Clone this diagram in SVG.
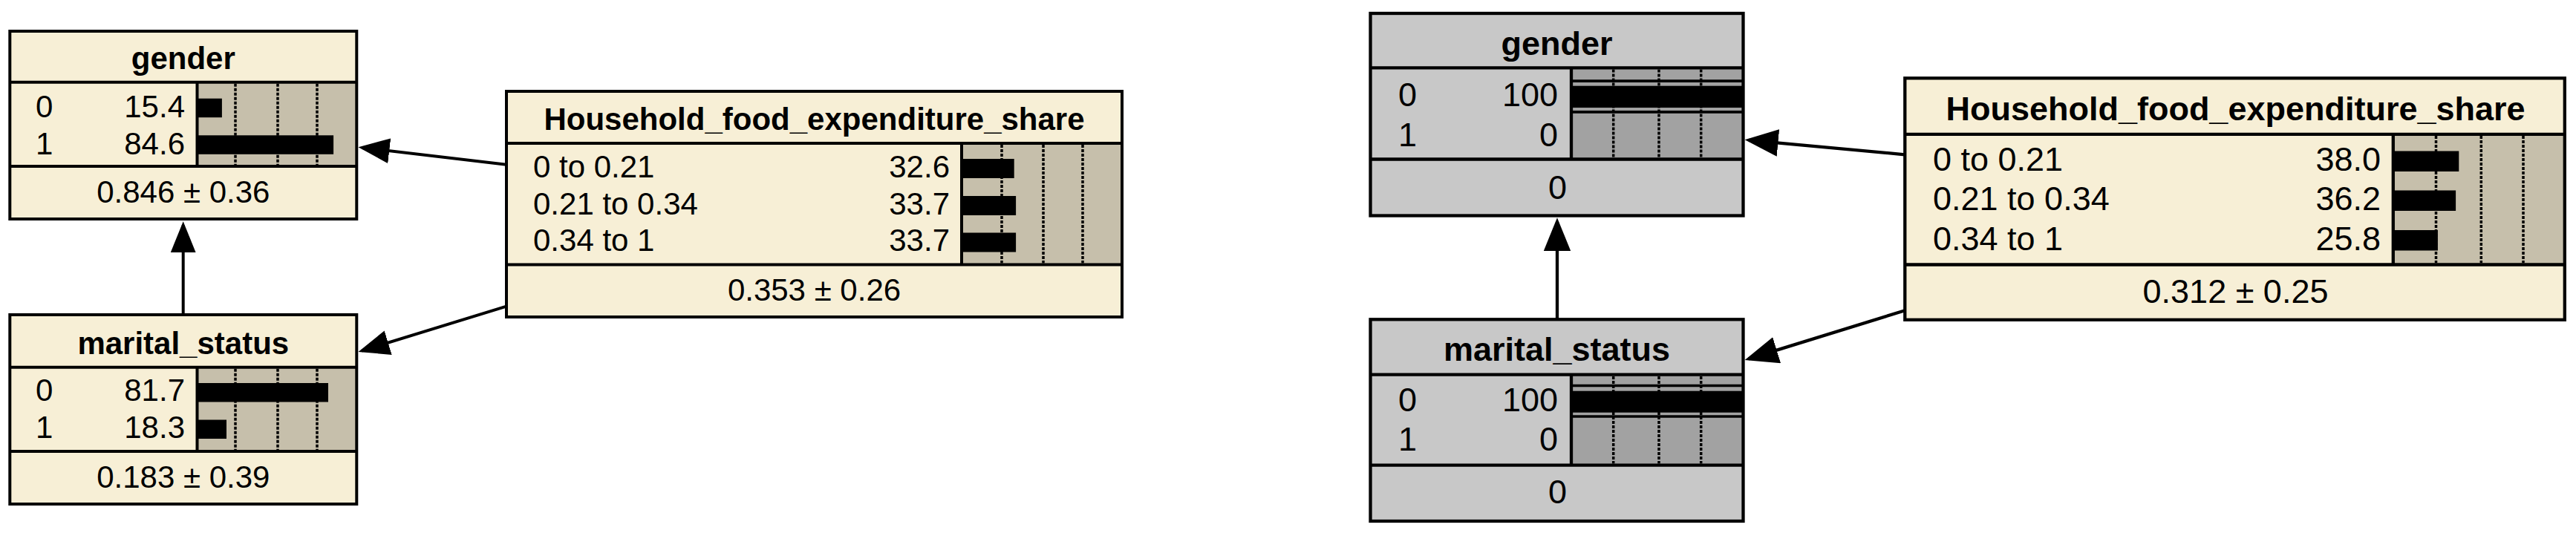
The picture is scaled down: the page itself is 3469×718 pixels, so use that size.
<svg xmlns="http://www.w3.org/2000/svg" width="3469" height="718" viewBox="0 0 3469 718">
<defs>
<style>
.cream{fill:#f7efd6}
.gray{fill:#c8c8c8}
.barbg{fill:#c6bfab}
.barbg2{fill:#a2a2a2}
.frame{fill:none;stroke:#000;stroke-width:4}
.frame2{fill:none;stroke:#000;stroke-width:4.3}
.div{stroke:#000;stroke-width:4}
.div2{stroke:#000;stroke-width:4.3}
.sel{stroke:#000;stroke-width:3.7}
.dash{stroke:#000;stroke-width:3.5;stroke-dasharray:4 2}
.bar{fill:#000}
.t{font-family:"Liberation Sans",Arial,sans-serif;fill:#000}
.s{font-size:42px}
.b{font-size:42px;font-weight:bold}
.s2{font-size:45px}
.b2{font-size:45px;font-weight:bold}
.mid{text-anchor:middle}
.end{text-anchor:end}
.edge{fill:none;stroke:#000;stroke-width:4}
.edge2{fill:none;stroke:#000;stroke-width:4.3}
</style>
<marker id="ah" markerUnits="userSpaceOnUse" markerWidth="42" markerHeight="34" refX="37" refY="17" orient="auto" viewBox="0 0 42 34"><path d="M0,0 L42,17 L0,34 z" fill="#000"/></marker>
<marker id="ah2" markerUnits="userSpaceOnUse" markerWidth="45" markerHeight="36.6" refX="39.6" refY="18.3" orient="auto" viewBox="0 0 45 36.6"><path d="M0,0 L45,18.3 L0,36.6 z" fill="#000"/></marker>
</defs>
<rect x="0" y="0" width="3469" height="718" fill="#fff"/>

<!-- LEFT: gender -->
<g id="gender_left">
<rect class="cream" x="13.3" y="42" width="467" height="253"/>
<rect class="barbg" x="265.5" y="110.7" width="214.8" height="113.3"/>
<line class="dash" x1="317" y1="112.7" x2="317" y2="222"/>
<line class="dash" x1="374" y1="112.7" x2="374" y2="222"/>
<line class="dash" x1="427" y1="112.7" x2="427" y2="222"/>
<rect class="bar" x="265.5" y="132.7" width="33.4" height="25.5"/>
<rect class="bar" x="265.5" y="182.3" width="183.6" height="25.5"/>
<line class="div" x1="13.3" y1="110.7" x2="480.3" y2="110.7"/>
<line class="div" x1="13.3" y1="224" x2="480.3" y2="224"/>
<line class="div" x1="265.5" y1="110.7" x2="265.5" y2="224"/>
<rect class="frame" x="13.3" y="42" width="467" height="253"/>
<text class="t b mid" x="246.8" y="93">gender</text>
<text class="t s" x="48" y="158">0</text>
<text class="t s end" x="249" y="158">15.4</text>
<text class="t s" x="48" y="208">1</text>
<text class="t s end" x="249" y="208">84.6</text>
<text class="t s mid" x="246.8" y="273">0.846 ± 0.36</text>
</g>

<!-- LEFT: marital_status -->
<g id="marital_status_left">
<rect class="cream" x="13.3" y="424" width="467" height="255"/>
<rect class="barbg" x="265.5" y="494.7" width="214.8" height="113.3"/>
<line class="dash" x1="317" y1="496.7" x2="317" y2="606"/>
<line class="dash" x1="374" y1="496.7" x2="374" y2="606"/>
<line class="dash" x1="427" y1="496.7" x2="427" y2="606"/>
<rect class="bar" x="265.5" y="516" width="176.5" height="25.5"/>
<rect class="bar" x="265.5" y="565.5" width="39.5" height="25.5"/>
<line class="div" x1="13.3" y1="494.7" x2="480.3" y2="494.7"/>
<line class="div" x1="13.3" y1="608" x2="480.3" y2="608"/>
<line class="div" x1="265.5" y1="494.7" x2="265.5" y2="608"/>
<rect class="frame" x="13.3" y="424" width="467" height="255"/>
<text class="t b mid" x="246.8" y="477">marital_status</text>
<text class="t s" x="48" y="540">0</text>
<text class="t s end" x="249" y="540">81.7</text>
<text class="t s" x="48" y="590">1</text>
<text class="t s end" x="249" y="590">18.3</text>
<text class="t s mid" x="246.8" y="657">0.183 ± 0.39</text>
</g>

<!-- LEFT: Household_food_expenditure_share -->
<g id="household_left">
<rect class="cream" x="682" y="123" width="829" height="304"/>
<rect class="barbg" x="1295" y="193" width="216" height="163.5"/>
<line class="dash" x1="1349" y1="195" x2="1349" y2="354.5"/>
<line class="dash" x1="1405" y1="195" x2="1405" y2="354.5"/>
<line class="dash" x1="1458" y1="195" x2="1458" y2="354.5"/>
<rect class="bar" x="1295" y="214" width="70.7" height="26"/>
<rect class="bar" x="1295" y="264" width="73.1" height="26"/>
<rect class="bar" x="1295" y="313.5" width="73.1" height="26"/>
<line class="div" x1="682" y1="193" x2="1511" y2="193"/>
<line class="div" x1="682" y1="356.5" x2="1511" y2="356.5"/>
<line class="div" x1="1295" y1="193" x2="1295" y2="356.5"/>
<rect class="frame" x="682" y="123" width="829" height="304"/>
<text class="t b mid" x="1096.5" y="175">Household_food_expenditure_share</text>
<text class="t s" x="718" y="239.3">0 to 0.21</text>
<text class="t s end" x="1279" y="239.3">32.6</text>
<text class="t s" x="718" y="288.7">0.21 to 0.34</text>
<text class="t s end" x="1279" y="288.7">33.7</text>
<text class="t s" x="718" y="338.3">0.34 to 1</text>
<text class="t s end" x="1279" y="338.3">33.7</text>
<text class="t s mid" x="1096.5" y="405">0.353 ± 0.26</text>
</g>

<!-- RIGHT: gender (evidence) -->
<g id="gender_right">
<rect class="gray" x="1845.5" y="18" width="502" height="272.5"/>
<rect class="barbg2" x="2116" y="91.3" width="231.5" height="123.2"/>
<line class="dash" x1="2172.7" y1="93.5" x2="2172.7" y2="212.5"/>
<line class="dash" x1="2234" y1="93.5" x2="2234" y2="212.5"/>
<line class="dash" x1="2290.7" y1="93.5" x2="2290.7" y2="212.5"/>
<line class="sel" x1="2116" y1="109.2" x2="2347.5" y2="109.2"/>
<line class="sel" x1="2116" y1="150.9" x2="2347.5" y2="150.9"/>
<rect class="bar" x="2116" y="115.7" width="231.5" height="29.3"/>
<line class="div2" x1="1845.5" y1="91.3" x2="2347.5" y2="91.3"/>
<line class="div2" x1="1845.5" y1="214.5" x2="2347.5" y2="214.5"/>
<line class="div2" x1="2116" y1="91.3" x2="2116" y2="214.5"/>
<rect class="frame2" x="1845.5" y="18" width="502" height="272.5"/>
<text class="t b2 mid" x="2096.5" y="74">gender</text>
<text class="t s2" x="1883" y="142.7">0</text>
<text class="t s2 end" x="2098" y="142.7">100</text>
<text class="t s2" x="1883" y="196.7">1</text>
<text class="t s2 end" x="2098" y="196.7">0</text>
<text class="t s2 mid" x="2097.5" y="268.3">0</text>
</g>

<!-- RIGHT: marital_status (evidence) -->
<g id="marital_status_right">
<rect class="gray" x="1845.5" y="430.3" width="502" height="271.7"/>
<rect class="barbg2" x="2116" y="504.7" width="231.5" height="122"/>
<line class="dash" x1="2172.7" y1="507" x2="2172.7" y2="624.5"/>
<line class="dash" x1="2234" y1="507" x2="2234" y2="624.5"/>
<line class="dash" x1="2290.7" y1="507" x2="2290.7" y2="624.5"/>
<line class="sel" x1="2116" y1="519.5" x2="2347.5" y2="519.5"/>
<line class="sel" x1="2116" y1="561" x2="2347.5" y2="561"/>
<rect class="bar" x="2116" y="526.7" width="231.5" height="29"/>
<line class="div2" x1="1845.5" y1="504.7" x2="2347.5" y2="504.7"/>
<line class="div2" x1="1845.5" y1="626.7" x2="2347.5" y2="626.7"/>
<line class="div2" x1="2116" y1="504.7" x2="2116" y2="626.7"/>
<rect class="frame2" x="1845.5" y="430.3" width="502" height="271.7"/>
<text class="t b2 mid" x="2096.5" y="486">marital_status</text>
<text class="t s2" x="1883" y="554">0</text>
<text class="t s2 end" x="2098" y="554">100</text>
<text class="t s2" x="1883" y="607.3">1</text>
<text class="t s2 end" x="2098" y="607.3">0</text>
<text class="t s2 mid" x="2097.5" y="678.3">0</text>
</g>

<!-- RIGHT: Household_food_expenditure_share -->
<g id="household_right">
<rect class="cream" x="2565.3" y="105.3" width="888.5" height="325.5"/>
<rect class="barbg" x="3222.8" y="180.8" width="231" height="175.7"/>
<line class="dash" x1="3280.5" y1="183" x2="3280.5" y2="354.3"/>
<line class="dash" x1="3341.3" y1="183" x2="3341.3" y2="354.3"/>
<line class="dash" x1="3398" y1="183" x2="3398" y2="354.3"/>
<rect class="bar" x="3222.8" y="203.5" width="88.5" height="27.5"/>
<rect class="bar" x="3222.8" y="256.5" width="84.3" height="27.5"/>
<rect class="bar" x="3222.8" y="310" width="60.1" height="27.5"/>
<line class="div2" x1="2565.3" y1="180.8" x2="3453.8" y2="180.8"/>
<line class="div2" x1="2565.3" y1="356.5" x2="3453.8" y2="356.5"/>
<line class="div2" x1="3222.8" y1="180.8" x2="3222.8" y2="356.5"/>
<rect class="frame2" x="2565.3" y="105.3" width="888.5" height="325.5"/>
<text class="t b2 mid" x="3010.5" y="161.7">Household_food_expenditure_share</text>
<text class="t s2" x="2603" y="230">0 to 0.21</text>
<text class="t s2 end" x="3206" y="230">38.0</text>
<text class="t s2" x="2603" y="283.3">0.21 to 0.34</text>
<text class="t s2 end" x="3206" y="283.3">36.2</text>
<text class="t s2" x="2603" y="337.3">0.34 to 1</text>
<text class="t s2 end" x="3206" y="337.3">25.8</text>
<text class="t s2 mid" x="3010.5" y="408.3">0.312 ± 0.25</text>
</g>

<g id="connectors">
<line class="edge" x1="682" y1="221.7" x2="487.5" y2="198.9" marker-end="url(#ah)"/>
<line class="edge" x1="682" y1="412.7" x2="487.3" y2="472.5" marker-end="url(#ah)"/>
<line class="edge" x1="246.7" y1="424" x2="246.7" y2="303.3" marker-end="url(#ah)"/>
<line class="edge2" x1="2565.3" y1="208.3" x2="2355" y2="188.8" marker-end="url(#ah2)"/>
<line class="edge2" x1="2565.3" y1="418.3" x2="2354.8" y2="483.4" marker-end="url(#ah2)"/>
<line class="edge2" x1="2097" y1="430.3" x2="2097" y2="298.7" marker-end="url(#ah2)"/>
</g>
</svg>
